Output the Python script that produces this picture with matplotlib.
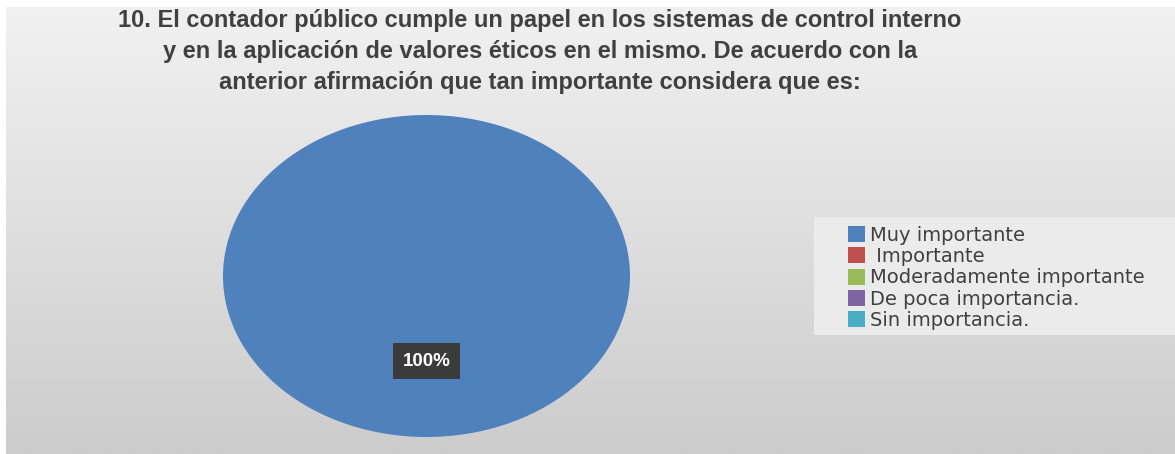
import numpy as np
import matplotlib.pyplot as plt
from matplotlib.patches import Rectangle

# datos de la pregunta 10
categorias = ["Muy importante", " Importante", "Moderadamente importante",
              "De poca importancia.", "Sin importancia."]
valores = [100, 0, 0, 0, 0]
colores = ["#4f81bd", "#c0504d", "#9bbb59", "#8064a2", "#4bacc6"]
titulo = ("10. El contador público cumple un papel en los sistemas de control interno\n"
          "y en la aplicación de valores éticos en el mismo. De acuerdo con la\n"
          "anterior afirmación que tan importante considera que es:")

W, H = 1175, 454
fig = plt.figure(figsize=(W / 100, H / 100), dpi=100)
fig.patch.set_facecolor("white")

# fondo con degradado gris
bg = fig.add_axes([6 / W, 0, 1 - 6 / W, 1 - 7 / H])
grad = np.linspace(0, 1, 256).reshape(-1, 1)
top = np.array([0.945, 0.945, 0.945])
bot = np.array([0.80, 0.80, 0.80])
img = top + (bot - top) * grad[:, :, None]
bg.imshow(img, aspect="auto", extent=[0, 1, 0, 1], origin="upper")
bg.add_patch(Rectangle((814 / W, (454 - 335) / H), 1, 118 / H,
                       transform=fig.transFigure, facecolor="#ebebeb",
                       edgecolor="none", zorder=3))
bg.set_axis_off()

# pastel (elíptico como en la imagen)
ax = fig.add_axes([223 / W, 17 / H, 407 / W, 322 / H])
def etiqueta(p):
    return f"{p:.0f}%" if p > 0 else ""
wedges, textos, autotextos = ax.pie(
    valores, colors=colores, startangle=90, autopct=etiqueta,
    pctdistance=0.53, wedgeprops=dict(linewidth=0))
for t in autotextos:
    t.set_color("white")
    t.set_fontsize(13.5)
    t.set_fontweight("bold")
    t.set_fontfamily("Liberation Sans")
    t.set_bbox(dict(boxstyle="square,pad=0.5", facecolor="#3b3b3b",
                    edgecolor="none"))
ax.set_aspect("auto")
ax.set_xlim(-1, 1)
ax.set_ylim(-1, 1)
ax.set_axis_off()

fig.text(540 / W, 1 - 9 / H, titulo, ha="center", va="top",
         fontsize=17, fontweight="bold", color="#404040",
         family="Liberation Sans", linespacing=1.45)

fig.legend(wedges, categorias, loc="upper left",
           bbox_to_anchor=(838 / W, 1 - 216 / H), frameon=False,
           handlelength=0.9, handleheight=0.9,
           handletextpad=0.25, labelspacing=0.12, borderpad=0,
           prop=dict(family="DejaVu Sans", size=14))
for t in fig.legends[0].get_texts():
    t.set_color("#404040")

fig.savefig("out.png", dpi=100)
